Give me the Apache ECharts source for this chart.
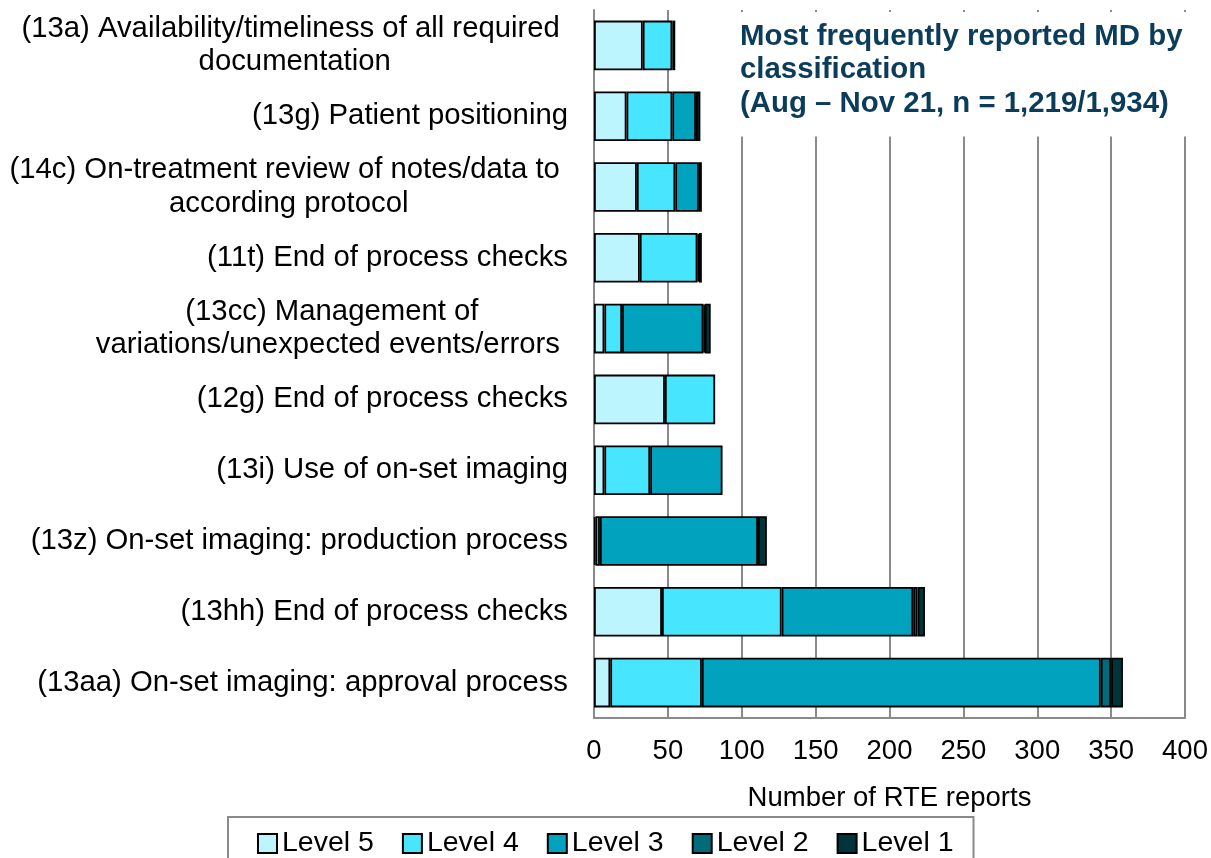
<!DOCTYPE html>
<html>
<head>
<meta charset="utf-8">
<script src="https://cdn.jsdelivr.net/npm/echarts@6/dist/echarts.min.js"></script>
<style>
  html, body { margin: 0; padding: 0; background: #fff; }
  #chart { width: 1211px; height: 858px; }
</style>
</head>
<body>
<div id="chart"></div>
<script>
const categories = [
  '(13a) Availability/timeliness of all required \ndocumentation',
  '(13g) Patient positioning',
  '(14c) On-treatment review of notes/data to \naccording protocol',
  '(11t) End of process checks',
  '(13cc) Management of\nvariations/unexpected events/errors ',
  '(12g) End of process checks',
  '(13i) Use of on-set imaging',
  '(13z) On-set imaging: production process',
  '(13hh) End of process checks',
  '(13aa) On-set imaging: approval process'
];
const level5 = [33, 22, 29, 31, 7, 48, 7, 1, 46, 11];
const level4 = [20, 31, 26, 39, 12, 34, 31, 3, 81, 62];
const level3 = [0, 16, 16, 1, 55, 0, 49, 107, 89, 270];
const level2 = [0, 0, 0, 0, 1, 0, 0, 0, 3, 7];
const level1 = [2, 3, 2, 2, 4, 0, 0, 6, 5, 8];
const seriesNames = ['Level 5', 'Level 4', 'Level 3', 'Level 2', 'Level 1'];
const xTicks = { min: 0, max: 400, interval: 50 };
const titleText = 'Most frequently reported MD by\nclassification\n(Aug \u2013 Nov 21, n = 1,219/1,934)';
const axisName = 'Number of RTE reports';

const colors = ['#bdf5fe', '#48e5fe', '#00a2bd', '#006b7b', '#00343b'];
const seriesData = [level5, level4, level3, level2, level1];
const FONT = '"Liberation Sans", Arial, sans-serif';

const chart = echarts.init(document.getElementById('chart'), null, { renderer: 'canvas' });
chart.setOption({
  animation: false,
  color: colors,
  textStyle: { fontFamily: FONT },
  title: {
    text: titleText,
    left: 732,
    top: 12,
    padding: [8, 8, 16, 8],
    backgroundColor: '#ffffff',
    textStyle: {
      fontFamily: FONT,
      fontSize: 29.4,
      fontWeight: 'bold',
      color: '#0b3d5b',
      lineHeight: 33.5
    }
  },
  legend: {
    data: seriesNames,
    left: 228,
    top: 817,
    padding: [12, 20, 12, 29],
    itemWidth: 19,
    itemHeight: 19,
    itemGap: 28,
    borderColor: '#8a8a8a',
    borderWidth: 2,
    backgroundColor: '#fff',
    icon: 'rect',
    textStyle: { fontFamily: FONT, fontSize: 28.5, color: '#000' }
  },
  grid: { left: 594, right: 26, top: 10, bottom: 140, containLabel: false },
  xAxis: {
    type: 'value',
    min: xTicks.min,
    max: xTicks.max,
    interval: xTicks.interval,
    name: axisName,
    nameLocation: 'middle',
    nameGap: 66,
    nameTextStyle: { fontFamily: FONT, fontSize: 27.5, color: '#000' },
    axisLine: { show: true, lineStyle: { color: '#8a8a8a', width: 2 } },
    axisTick: { show: false },
    axisLabel: { fontFamily: FONT, fontSize: 27.5, color: '#000', margin: 19 },
    splitLine: { show: true, lineStyle: { color: '#8a8a8a', width: 2 } }
  },
  yAxis: {
    type: 'category',
    inverse: true,
    data: categories,
    axisLine: { show: true, lineStyle: { color: '#8a8a8a', width: 2 } },
    axisTick: { show: false },
    axisLabel: {
      margin: 26,
      fontFamily: FONT,
      fontSize: 29.3,
      color: '#000',
      lineHeight: 33.5,
      formatter: function (v) {
        return v.split('\n').map(function (s) { return '{c|' + s + '}'; }).join('\n');
      },
      rich: {
        c: { align: 'center', fontFamily: FONT, fontSize: 29.3, color: '#000', lineHeight: 33.5 }
      }
    }
  },
  series: seriesNames.map(function (name, i) {
    return {
      name: name,
      type: 'bar',
      stack: 'total',
      barCategoryGap: '30%',
      itemStyle: { color: colors[i], borderColor: '#000', borderWidth: 1.8 },
      data: seriesData[i].map(function (v) { return v === 0 ? null : v; })
    };
  })
});
</script>
</body>
</html>
